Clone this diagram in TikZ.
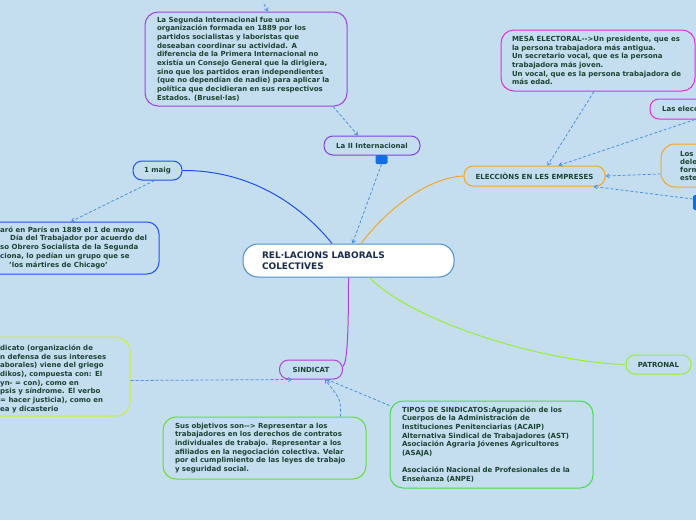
\documentclass[tikz,border=0pt]{standalone}
\usepackage{fontspec}
\setmainfont{DejaVu Sans}
\usetikzlibrary{arrows.meta}
\definecolor{bg}{HTML}{C4DEF0}
\definecolor{navy}{HTML}{1A2B4C}
\definecolor{txt}{HTML}{1B4332}
\definecolor{cblue}{HTML}{4A8FD0}
\definecolor{purA}{HTML}{7F3FE0}
\definecolor{purB}{HTML}{A040E8}
\definecolor{purS}{HTML}{B040E0}
\definecolor{blueM}{HTML}{1F4FEF}
\definecolor{orangeE}{HTML}{F5A623}
\definecolor{magE}{HTML}{E52BD8}
\definecolor{limeS}{HTML}{CCEE33}
\definecolor{greenS}{HTML}{66DD33}
\definecolor{greenT}{HTML}{44DD44}
\definecolor{patr}{HTML}{99EE33}
\definecolor{dashc}{HTML}{4A90E2}
\definecolor{sqc}{HTML}{1070E0}
\begin{document}
\begin{tikzpicture}[x=1pt,y=-1pt,
  small/.style={font=\bfseries\fontsize{7}{8.7}\selectfont, text=txt},
  tbox/.style={small, draw, line width=1pt, rounded corners=13pt, align=left, inner ysep=0pt},
  lbl/.style={small, draw, line width=1pt, rounded corners=9pt, align=center, inner sep=0pt},
  shapebox/.style={draw, line width=1pt, rounded corners=12pt, inner sep=0pt},
  plain/.style={small, align=left, inner sep=0pt, anchor=north west},
  dlink/.style={draw=dashc, line width=0.8pt, dash pattern=on 3pt off 2pt, -{Straight Barb[length=3pt,width=4pt]}},
  conn/.style={line width=1pt}
]
\useasboundingbox[fill=bg] (0,0) rectangle (696,520);

% central
\node[draw=cblue, fill=white, line width=1pt, rounded corners=15pt, text width=173pt, inner xsep=19pt, inner ysep=0pt,
  minimum height=33pt, align=left, font=\bfseries\fontsize{9}{10.5}\selectfont, text=navy] (c) at (348.5,260.5)
  {REL·LACIONS LABORALS\\COLECTIVES};

% top
\node[tbox, draw=purB, text width=178pt, inner xsep=12pt, minimum height=94pt] (tb) at (246,59)
{La Segunda Internacional fue una\\
organización formada en 1889 por los\\
partidos socialistas y laboristas que\\
deseaban coordinar su actividad. A\\
diferencia de la Primera Internacional no\\
existía un Consejo General que la dirigiera,\\
sino que los partidos eran independientes\\
(que no dependían de nadie) para aplicar la\\
política que decidieran en sus respectivos\\
Estados. (Brusel·las)};

\node[lbl, draw=purA, minimum width=96pt, minimum height=19pt] (la2) at (372,145.5) {La II Internacional};
\node[fill=sqc, draw=none, rounded corners=1.5pt, minimum width=12pt, minimum height=9pt, inner sep=0pt] (sq1) at (381.5,159.5) {};

% 1 maig
\node[lbl, draw=blueM, minimum width=49pt, minimum height=19pt] (m1) at (157.5,170.5) {1 maig};
\node[shapebox, draw=blueM, minimum width=200pt, minimum height=52pt] (lm) at (59,248) {};
\node[small, inner sep=0pt, anchor=north west] (lmt) at (0,226)
{\renewcommand\arraystretch{1}\begin{tabular}{@{}l@{}}
aró en París en 1889 el 1 de mayo\\
\hspace*{10pt}Día del Trabajador por acuerdo del\\
so Obrero Socialista de la Segunda\\
ciona, lo pedían un grupo que se\\
\hspace*{9pt}'los mártires de Chicago'
\end{tabular}};

% elecciones
\node[lbl, draw=orangeE, minimum width=141pt, minimum height=20pt] (el) at (534.5,176) {ELECCIÒNS EN LES EMPRESES};
\node[tbox, draw=magE, text width=172pt, inner xsep=11pt, minimum height=61pt] (mesa) at (598,60.5)
{MESA ELECTORAL-{}->Un presidente, que es\\
la persona trabajadora más antigua.\\
Un secretario vocal, que es la persona\\
trabajadora más joven.\\
Un vocal, que es la persona trabajadora de\\
más edad.};
\node[shapebox, draw=magE, rounded corners=9pt, minimum width=80pt, minimum height=20pt] (le) at (690,109) {};
\node[small, anchor=west, inner sep=0pt] (let) at (662,109) {Las elecc};
\node[shapebox, draw=orangeE, rounded corners=14pt, minimum width=78pt, minimum height=43pt] (ld) at (700,165.5) {};
\node[plain, font=\bfseries\fontsize{7}{8}\selectfont] (ldt) at (680,151.5) {Los\\dele\\form\\este};
\node[fill=sqc, draw=none, rounded corners=1.5pt, minimum width=10pt, minimum height=15pt, inner sep=0pt] (sq2) at (698,202.5) {};

% sindicat
\node[lbl, draw=purS, minimum width=63pt, minimum height=19pt] (s) at (311,369.5) {SINDICAT};
\node[shapebox, draw=limeS, rounded corners=14pt, minimum width=190pt, minimum height=79pt] (ldc) at (35,376.5) {};
\node[plain] (ldct) at (0,344.5)
{dicato (organización de\\
n defensa de sus intereses\\
aborales) viene del griego\\
dikos), compuesta con: El\\
yn- = con), como en\\
psis y síndrome. El verbo\\
= hacer justicia), como en\\
ea y dicasterio};
\node[tbox, draw=greenS, text width=179pt, inner xsep=12pt, minimum height=62pt] (sus) at (264.5,448)
{Sus objetivos son-{}-> Representar a los\\
trabajadores en los derechos de contratos\\
individuales de trabajo. Representar a los\\
afiliados en la negociación colectiva. Velar\\
por el cumplimiento de las leyes de trabajo\\
y seguridad social.};
\node[tbox, draw=greenT, text width=179pt, inner xsep=12pt, minimum height=87pt] (tip) at (491.5,444.5)
{TIPOS DE SINDICATOS:Agrupación de los\\
Cuerpos de la Administración de\\
Instituciones Penitenciarias (ACAIP)\\
Alternativa Sindical de Trabajadores (AST)\\
Asociación Agraria Jóvenes Agricultores\\
(ASAJA)\\[8.7pt]
Asociación Nacional de Profesionales de la\\
Enseñanza (ANPE)};

% patronal
\node[lbl, draw=patr, minimum width=65pt, minimum height=19pt] (pat) at (658.5,364.5) {PATRONAL};

% solid connectors
\draw[conn, blueM] (m1.east) .. controls (255,170) and (305,210) .. ([xshift=-16.5pt]c.north);
\draw[conn, orangeE] ([xshift=12.5pt]c.north) .. controls (385,212) and (425,178) .. (el.west);
\draw[conn, purS] (c.south) .. controls (348.5,330) and (347.5,362) .. ([yshift=3pt]s.east);
\draw[conn, patr] ([xshift=21pt]c.south) .. controls (410,320) and (540,362) .. (pat.west);

% dashed connectors
\coordinate (topc) at (264,4);
\draw[dlink] (topc) -- ([xshift=22pt]tb.north);
\draw[dlink] ([xshift=87pt]tb.south) -- ([xshift=-14pt]la2.north);
\draw[dlink] (sq1.south) -- ([xshift=4pt]c.north);
\draw[dlink] ([xshift=-3pt]m1.south) -- ([xshift=12pt]lm.north);
\draw[dlink] ([xshift=-4pt]mesa.south) -- ([xshift=13pt]el.north);
\draw[dlink] ([xshift=5pt]le.south) -- ([xshift=24pt]el.north);
\draw[dlink] ([yshift=-8.5pt]ld.west) -- (el.east);
\draw[dlink] ([yshift=3.5pt]sq2.west) -- ([xshift=59pt]el.south);
\draw[dlink] ([yshift=-4pt]ldc.east) -- ([xshift=-19pt]s.south);
\draw[dlink] ([xshift=76pt]sus.north) .. controls (341,400) .. ([xshift=14pt]s.south);
\draw[dlink] ([yshift=-5pt]tip.north west) -- ([xshift=16pt]s.south);
\end{tikzpicture}
\end{document}
